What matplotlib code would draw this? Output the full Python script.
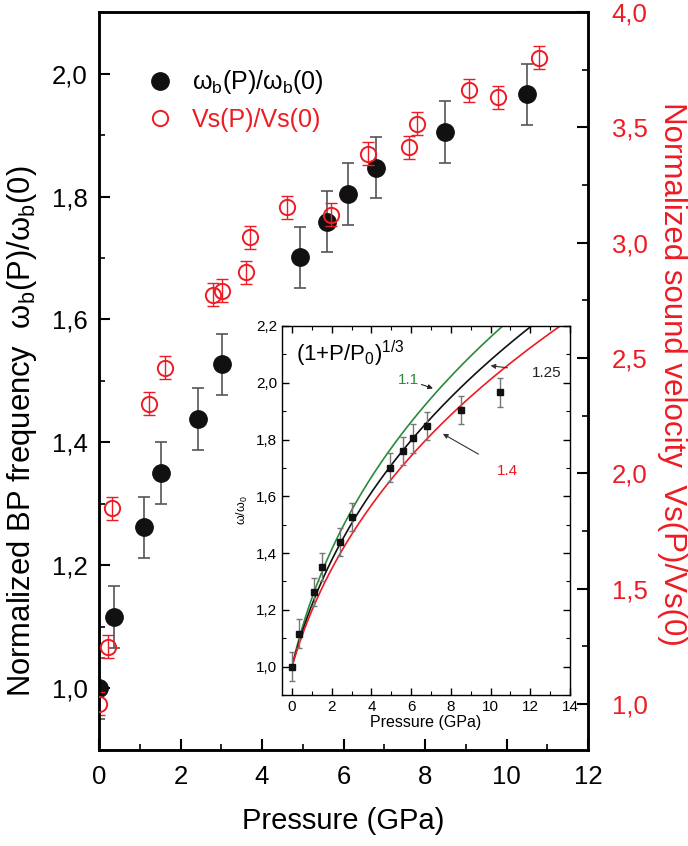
import numpy as np
import matplotlib
matplotlib.use('Agg')
import matplotlib.pyplot as plt
from matplotlib.ticker import MultipleLocator, FuncFormatter

plt.rcParams['font.family'] = ['Liberation Sans', 'DejaVu Sans']
plt.rcParams['mathtext.fontset'] = 'custom'
plt.rcParams['mathtext.rm'] = 'Liberation Sans'
plt.rcParams['mathtext.it'] = 'Liberation Sans:italic'

# boson peak frequency wb(P)/wb(0)
p_bp = [0.0, 0.37, 1.11, 1.52, 2.42, 3.01, 4.92, 5.59, 6.11, 6.79, 8.50, 10.50]
w_bp = [1.000, 1.116, 1.262, 1.350, 1.438, 1.527, 1.701, 1.759, 1.804, 1.847, 1.905, 1.966]
w_err = [0.05] * len(p_bp)

# sound velocity Vs(P)/Vs(0)
p_vs = [0.0, 0.22, 0.33, 1.22, 1.63, 2.80, 3.01, 3.60, 3.70, 4.61, 5.69,
        6.59, 7.60, 7.80, 9.09, 9.80, 10.80]
vs = [1.000, 1.247, 1.848, 2.302, 2.458, 2.775, 2.792, 2.871, 3.023, 3.154, 3.121,
      3.385, 3.413, 3.515, 3.661, 3.631, 3.802]
vs_err = [0.05] * len(p_vs)

# inset model curves (1+P/P0)^(1/3)
p0_vals = [1.1, 1.25, 1.4]
p0_colors = ['#2a8a3a', '#111111', '#ed1c24']

RED = '#ed1c24'


def comma(v, pos):
    return ('%.1f' % v).replace('.', ',')


fig = plt.figure(figsize=(6.88, 8.46), dpi=100)
ax = fig.add_axes([0.1439, 0.1135, 0.7108, 0.8723])
ax2 = ax.twinx()

ax.errorbar(p_bp, w_bp, yerr=w_err, fmt='none', ecolor='#555555', elinewidth=1.2,
            capsize=4, capthick=1.2, zorder=2)
h1, = ax.plot(p_bp, w_bp, 'o', color='#111111', ms=12.5, zorder=3)

ax2.errorbar(p_vs, vs, yerr=vs_err, fmt='none', ecolor=RED, elinewidth=1.0,
             capsize=4.5, capthick=1.0, zorder=2)
h2, = ax2.plot(p_vs, vs, 'o', mfc='none', mec=RED, mew=1.4, ms=11, zorder=3)

ax.set_xlim(0, 12)
ax.set_ylim(0.9, 2.1)
ax2.set_ylim(0.8, 4.0)

ax.xaxis.set_major_locator(MultipleLocator(2))
ax.xaxis.set_minor_locator(MultipleLocator(1))
ax.yaxis.set_major_locator(MultipleLocator(0.2))
ax.yaxis.set_minor_locator(MultipleLocator(0.1))
ax.yaxis.set_major_formatter(FuncFormatter(comma))
ax2.yaxis.set_major_locator(MultipleLocator(0.5))
ax2.yaxis.set_minor_locator(MultipleLocator(0.25))
ax2.yaxis.set_major_formatter(FuncFormatter(comma))

for a in (ax, ax2):
    for s in a.spines.values():
        s.set_linewidth(1.8)
ax.tick_params(which='both', direction='in', top=False, right=False, labelsize=18.5)
ax.tick_params(which='major', length=8, width=1.5)
ax.tick_params(which='minor', length=4.5, width=1.2)
ax.tick_params(axis='x', pad=11)
ax.tick_params(axis='y', pad=8)
ax2.tick_params(which='both', direction='in', labelsize=18.5, labelcolor=RED, pad=17)
ax2.tick_params(which='major', length=8, width=1.5)
ax2.tick_params(which='minor', length=4.5, width=1.2)

ax.set_xlabel('Pressure (GPa)', fontsize=21, labelpad=13)
fig.text(0.032, 0.49, r'Normalized BP frequency  ω$_\mathrm{b}$(P)/ω$_\mathrm{b}$(0)',
         rotation=90, ha='center', va='center', fontsize=22.3)
fig.text(0.977, 0.558, 'Normalized sound velocity  Vs(P)/Vs(0)',
         rotation=270, ha='center', va='center', fontsize=22.5, color=RED)

leg = ax2.legend([h1, h2], [r'ω$_\mathrm{b}$(P)/ω$_\mathrm{b}$(0)', 'Vs(P)/Vs(0)'],
                 loc='upper left', bbox_to_anchor=(0.054, 0.954), frameon=False,
                 fontsize=18, handlelength=1.0, handletextpad=0.75, labelspacing=0.45)
leg.get_texts()[1].set_color(RED)

# inset
axi = fig.add_axes([0.4099, 0.1785, 0.4186, 0.4362])
axi.set_facecolor('white')
pp = np.linspace(0.05, 14, 300)
for p0, c in zip(p0_vals, p0_colors):
    axi.plot(pp, (1 + pp / p0) ** (1 / 3), color=c, lw=1.2)
axi.errorbar(p_bp, w_bp, yerr=w_err, fmt='s', color='#111111', ms=5,
             ecolor='#777777', elinewidth=1.0, capsize=2.5, capthick=1.0, zorder=5)
axi.set_xlim(-0.5, 14)
axi.set_ylim(0.9, 2.2)
axi.xaxis.set_major_locator(MultipleLocator(2))
axi.xaxis.set_minor_locator(MultipleLocator(1))
axi.yaxis.set_major_locator(MultipleLocator(0.2))
axi.yaxis.set_minor_locator(MultipleLocator(0.1))
axi.yaxis.set_major_formatter(FuncFormatter(comma))
axi.tick_params(which='both', direction='in', top=True, right=True, labelsize=11)
axi.tick_params(which='major', length=5, width=1.0)
axi.tick_params(which='minor', length=3, width=0.8)
for s in axi.spines.values():
    s.set_linewidth(1.0)
axi.set_xlabel('Pressure (GPa)', fontsize=11.5, labelpad=1)
axi.set_ylabel(r'ω/ω$_0$', fontsize=9, labelpad=4)

axi.text(0.2, 2.1, r'(1+P/P$_0$)$^{1/3}$', fontsize=16, va='center', ha='left')
axi.annotate('1.1', xy=(7.1, 1.98), xytext=(5.85, 2.01), color=p0_colors[0],
             fontsize=11, ha='center', va='center',
             arrowprops=dict(arrowstyle='-|>', color='#222222', lw=0.8,
                             mutation_scale=7, shrinkA=12, shrinkB=0))
axi.annotate('1.25', xy=(10.0, 2.06), xytext=(12.85, 2.035), color='#222222',
             fontsize=11, ha='center', va='center',
             arrowprops=dict(arrowstyle='-|>', color='#333333', lw=0.8,
                             mutation_scale=7, shrinkA=16, shrinkB=0))
axi.annotate('1.4', xy=(7.6, 1.82), xytext=(10.85, 1.69), color=RED,
             fontsize=11, ha='center', va='center',
             arrowprops=dict(arrowstyle='-|>', color='#333333', lw=0.8,
                             mutation_scale=7, shrinkA=13, shrinkB=0))

fig.savefig('out.png', dpi=100)
